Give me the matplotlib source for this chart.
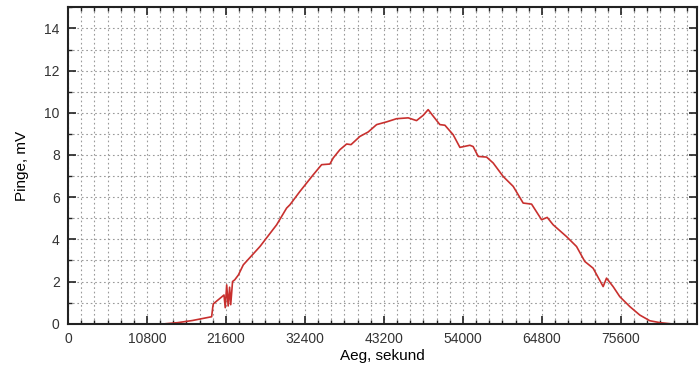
import matplotlib
matplotlib.use("Agg")
import matplotlib.pyplot as plt
from matplotlib.ticker import MultipleLocator

# readings off the logger (time in seconds, voltage in mV)
time_s = [13400, 15000, 17000, 19640, 19800, 19870, 21330, 21500, 21700, 21900,
          22100, 22250, 22500, 22800, 23300, 23970, 26250, 28530, 29890, 30350,
          31710, 33530, 34680, 35810, 36270, 37180, 38100, 38700, 39920, 41050,
          42200, 43570, 44930, 46520, 47660, 48570, 49250, 49940, 50850, 51540,
          52670, 53590, 54950, 55400, 56090, 57240, 58140, 59510, 60880, 62240,
          63390, 64760, 65530, 66340, 68170, 69540, 70670, 71810, 73180, 73640,
          74540, 75460, 76830, 78190, 79560, 80930, 82300]
voltage_mv = [0.0, 0.05, 0.15, 0.33, 0.8, 0.94, 1.36, 0.76, 1.84, 0.84,
              1.73, 0.9, 2.0, 2.08, 2.31, 2.79, 3.66, 4.69, 5.48, 5.64,
              6.27, 7.06, 7.54, 7.57, 7.86, 8.25, 8.52, 8.49, 8.88, 9.09,
              9.44, 9.57, 9.72, 9.76, 9.63, 9.88, 10.15, 9.84, 9.44, 9.41,
              8.96, 8.36, 8.46, 8.4, 7.93, 7.9, 7.62, 6.98, 6.51, 5.72,
              5.67, 4.93, 5.04, 4.69, 4.13, 3.66, 2.95, 2.63, 1.76, 2.16,
              1.76, 1.28, 0.81, 0.41, 0.14, 0.05, 0.0]

xticks = [0, 10800, 21600, 32400, 43200, 54000, 64800, 75600]

plt.rcParams['font.family'] = ['Liberation Sans', 'DejaVu Sans']

fig = plt.figure(figsize=(6.99, 3.67), dpi=100)
ax = fig.add_axes([0.0973, 0.118, 0.8997, 0.862])

ax.plot(time_s, voltage_mv, color='#c8302e', lw=1.2)

ax.set_xlim(0, 86000)
ax.set_ylim(0, 15)
ax.set_xticks(xticks)
ax.xaxis.set_minor_locator(MultipleLocator(1800))
ax.yaxis.set_major_locator(MultipleLocator(2))
ax.yaxis.set_minor_locator(MultipleLocator(1))

#dotted grid on every minor step
ax.grid(which='both', linestyle=(0, (1.5, 2.5)), color='#9a9a9a', lw=0.8)
ax.set_axisbelow(True)

ax.tick_params(which='both', direction='in', top=True, right=True,
               colors='#222222', labelcolor='#333333', labelsize=10)
ax.tick_params(which='major', length=6, width=1.2, pad=6)
ax.tick_params(which='minor', length=3, width=1.0)
for s in ax.spines.values():
    s.set_linewidth(1.5)
    s.set_color('#222222')

ax.set_xlabel('Aeg, sekund', fontsize=11, labelpad=2)
ax.set_ylabel('Pinge, mV', fontsize=11, labelpad=11)

fig.savefig('out.png', dpi=100)
